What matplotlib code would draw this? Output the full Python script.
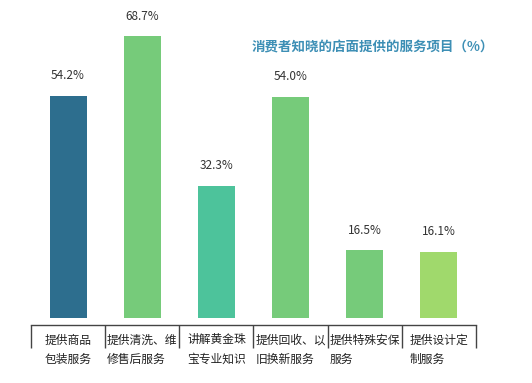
import matplotlib
matplotlib.use("Agg")
import matplotlib.pyplot as plt

plt.rcParams['font.family'] = ['Noto Sans CJK SC', 'DejaVu Sans']

categories = ["提供商品\n包装服务", "提供清洗、维\n修售后服务", "讲解黄金珠\n宝专业知识",
              "提供回收、以\n旧换新服务", "提供特殊安保\n服务", "提供设计定\n制服务"]
values = [54.2, 68.7, 32.3, 54.0, 16.5, 16.1]
labels = ["54.2%", "68.7%", "32.3%", "54.0%", "16.5%", "16.1%"]
colors = ["#2d6e8e", "#76cb7a", "#4dc39b", "#76cb7a", "#76cb7a", "#a0d96c"]
title = "消费者知晓的店面提供的服务项目（%）"

fig = plt.figure(figsize=(5.32, 3.83), dpi=100)
ax = fig.add_axes([31/532, 58/383, 445/532, 305/383])
x = list(range(len(values)))
ax.bar(x, values, width=0.5, color=colors)
for xi, v, lab in zip(x, values, labels):
    ax.text(xi, v + 4.9, lab, ha='center', va='center', fontsize=8.5, color='#333333')

ax.set_xlim(-0.5, len(values) - 0.5)
ax.set_ylim(-1.7, 72.7)
for s in ['left', 'right', 'top']:
    ax.spines[s].set_visible(False)
ax.spines['bottom'].set_color('#444444')
ax.spines['bottom'].set_linewidth(1.0)
ax.set_yticks([])
ax.set_xticks(x)
ax.set_xticklabels(categories, fontsize=8.5, color='#222222', linespacing=1.65,
                   multialignment='left')
ax.tick_params(axis='x', which='major', length=0, pad=6)
ax.set_xticks([i - 0.5 for i in range(len(values) + 1)], minor=True)
ax.tick_params(axis='x', which='minor', length=16.5, width=1.0, color='#444444', direction='out')

fig.text(252/532, 1 - 47/383, title, ha='left', va='center', fontsize=9.7,
         fontweight='bold', color='#3d8fb5')

fig.savefig("out.png", dpi=100, facecolor='white')
